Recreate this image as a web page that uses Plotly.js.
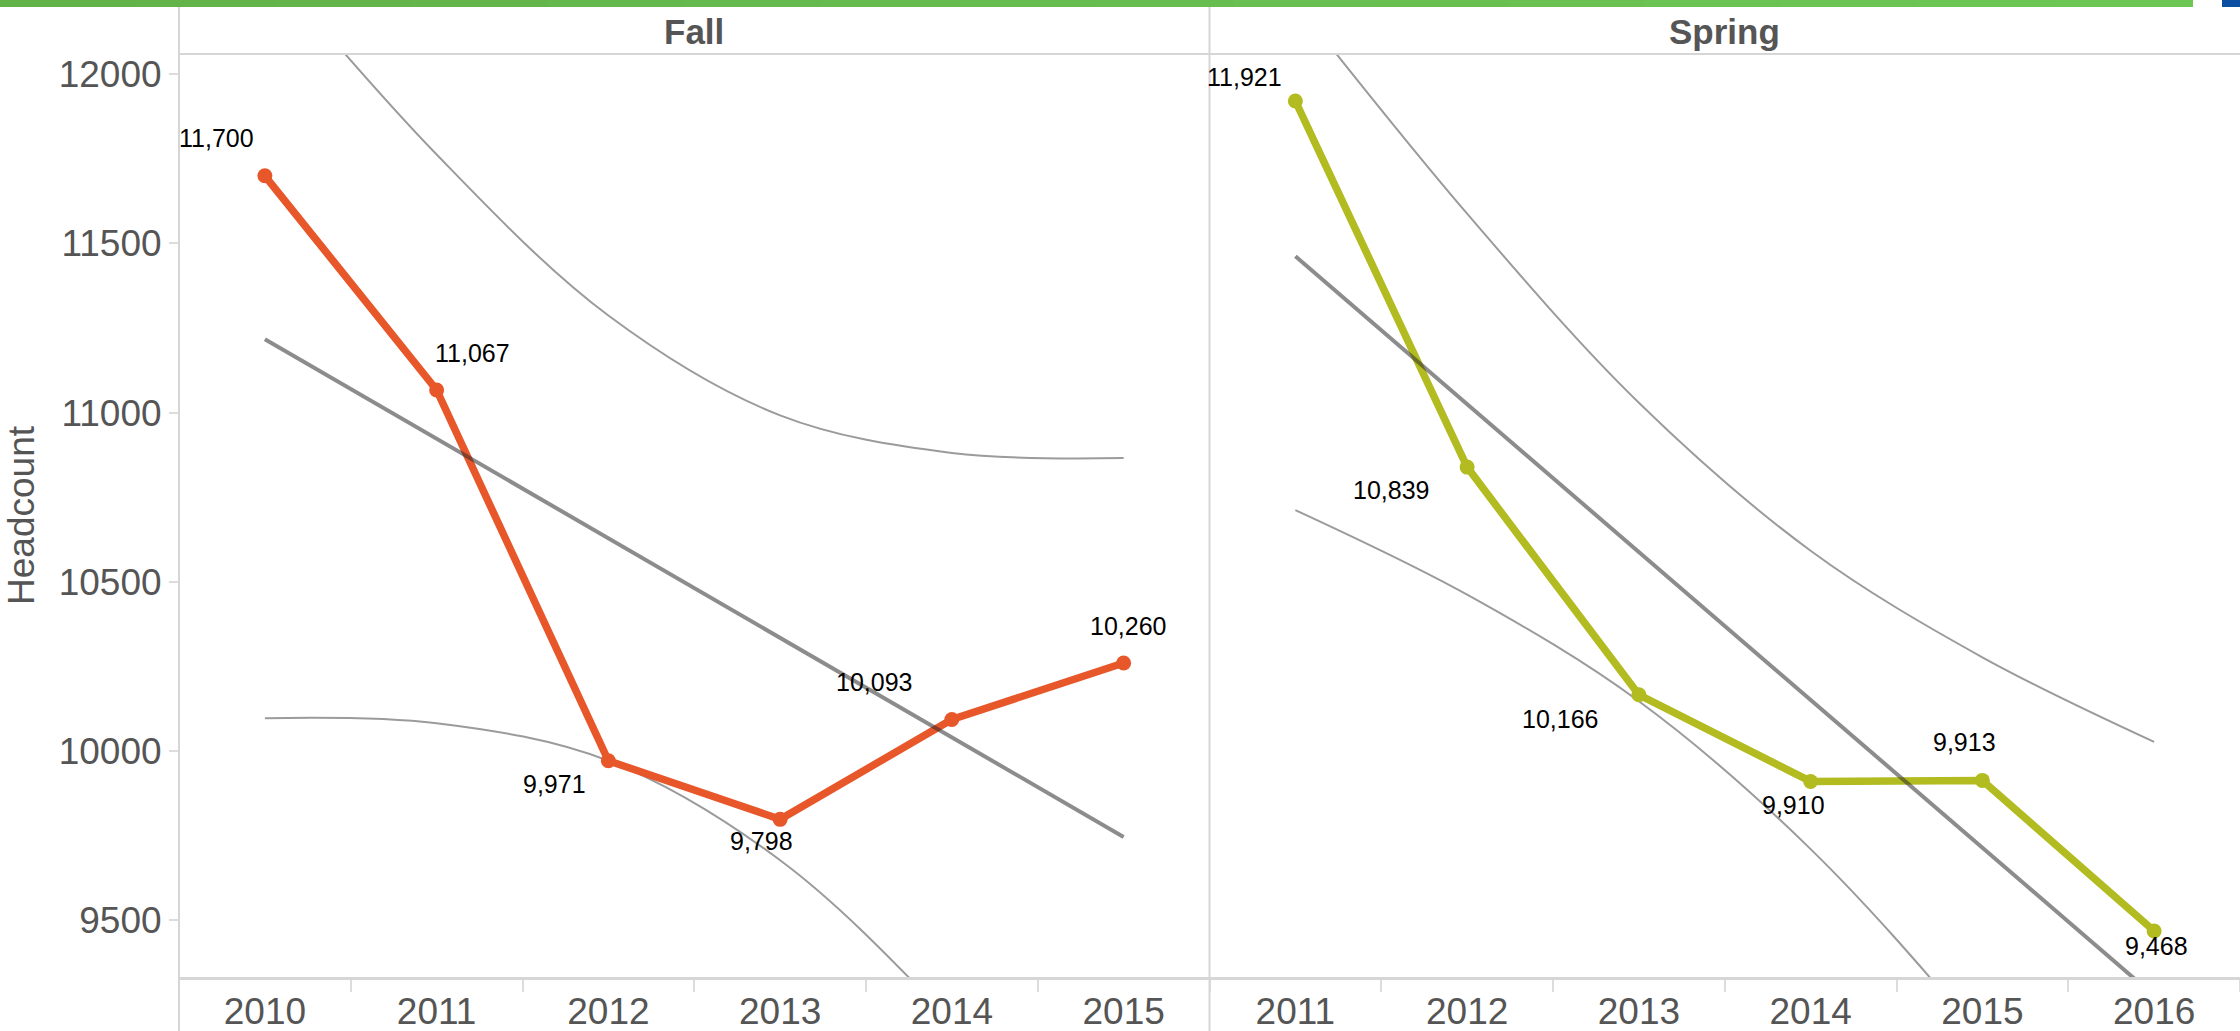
<!DOCTYPE html>
<html>
<head>
<meta charset="utf-8">
<script src="https://cdn.plot.ly/plotly-3.0.1.min.js"></script>
<style>
  html, body { margin: 0; padding: 0; background: #ffffff; }
  #chart { width: 2240px; height: 1031px; }
</style>
</head>
<body>
<div id="chart"></div>
<script>
// ---------------- DATA ----------------
const fallYears   = ['2010', '2011', '2012', '2013', '2014', '2015'];
const fallValues  = [11700, 11067, 9971, 9798, 10093, 10260];
const fallTrend   = [11217, 10923, 10629, 10334, 10040, 9746];
const fallUpper   = [12336, 11763, 11287, 10992, 10881, 10866];
const fallLower   = [10097, 10082, 9971, 9677, 9200, 8627];

const springYears  = ['2011', '2012', '2013', '2014', '2015', '2016'];
const springValues = [11921, 10839, 10166, 9910, 9913, 9468];
const springTrend  = [11462, 11025, 10588, 10151, 9714, 9277];
const springUpper  = [12213, 11588, 11029, 10592, 10277, 10027];
const springLower  = [10712, 10462, 10147, 9710, 9151, 8527];

const panelNames = ['Fall', 'Spring'];
const yTickVals  = [9500, 10000, 10500, 11000, 11500, 12000];
const yTitle     = 'Headcount';

// ---------------- STYLE ----------------
const FONT = '"Liberation Sans", Arial, Helvetica, sans-serif';
const fallColor = '#E8572A';
const springColor = '#B2BB1F';
const bandColor = '#9b9b9b';
const trendColor = 'rgba(45,45,45,0.55)';
const frameColor = '#d6d6d6';

// label offsets (pixels) for each point, style only
const fallShift   = [[-48,-38],[36,-37],[-54,23],[-19,22],[-78,-38],[4,-37]];
const springShift = [[-51,-24],[-76,23],[-79,24],[-17,24],[-18,-38],[2,15]];

function fmt(v) { return v.toLocaleString('en-US'); }

function panelTraces(years, values, trend, upper, lower, color, xa) {
  return [
    { x: years, y: upper, xaxis: xa, yaxis: 'y', type: 'scatter', mode: 'lines',
      line: { color: bandColor, width: 2, shape: 'spline', smoothing: 1 }, hoverinfo: 'skip' },
    { x: years, y: lower, xaxis: xa, yaxis: 'y', type: 'scatter', mode: 'lines',
      line: { color: bandColor, width: 2, shape: 'spline', smoothing: 1 }, hoverinfo: 'skip' },
    { x: years, y: values, xaxis: xa, yaxis: 'y', type: 'scatter', mode: 'lines+markers',
      line: { color: color, width: 7.5 }, marker: { color: color, size: 15 } },
    { x: [years[0], years[years.length - 1]], y: [trend[0], trend[trend.length - 1]],
      xaxis: xa, yaxis: 'y', type: 'scatter', mode: 'lines',
      line: { color: trendColor, width: 4 }, hoverinfo: 'skip' }
  ];
}

const data = [].concat(
  panelTraces(fallYears, fallValues, fallTrend, fallUpper, fallLower, fallColor, 'x'),
  panelTraces(springYears, springValues, springTrend, springUpper, springLower, springColor, 'x2')
);

const annotations = [];
function addLabels(years, values, shifts, xa) {
  years.forEach((yr, i) => {
    annotations.push({
      // category axes take the serial index of the category
      x: i, y: values[i], xref: xa, yref: 'y', text: fmt(values[i]),
      showarrow: false, xshift: shifts[i][0], yshift: -shifts[i][1],
      xanchor: 'center', yanchor: 'middle',
      font: { family: FONT, size: 25, color: '#000000' }
    });
  });
}
addLabels(fallYears, fallValues, fallShift, 'x');
addLabels(springYears, springValues, springShift, 'x2');

// panel headers
[0.25, 0.75].forEach((px, i) => {
  annotations.push({
    x: px, y: 1.0245, xref: 'paper', yref: 'paper', text: '<b>' + panelNames[i] + '</b>',
    showarrow: false, xanchor: 'center', yanchor: 'middle',
    font: { family: FONT, size: 35, color: '#555555' }
  });
});

// plot area: x 179..2240, y 54..977
const L = 179, T = 54, W = 2240 - 179, H = 977 - 54;
function px(X) { return (X - L) / W; }
function py(Y) { return (977 - Y) / H; }

const shapes = [];
// green top bar with slight gradient
const g0 = [98, 178, 74], g1 = [109, 199, 85];
const nSeg = 16;
for (let i = 0; i < nSeg; i++) {
  const t = i / (nSeg - 1);
  const c = g0.map((v, k) => Math.round(v + (g1[k] - v) * t));
  shapes.push({ type: 'rect', xref: 'paper', yref: 'paper',
    x0: px(2192 * i / nSeg), x1: px(2192 * (i + 1) / nSeg) + 0.0005, y0: py(7), y1: py(0),
    line: { width: 0 }, fillcolor: 'rgb(' + c.join(',') + ')', layer: 'above' });
}
shapes.push({ type: 'rect', xref: 'paper', yref: 'paper', x0: px(2222), x1: px(2240),
  y0: py(7), y1: py(0), line: { width: 0 }, fillcolor: '#0B4EA2' });
// header bottom line
shapes.push({ type: 'line', xref: 'paper', yref: 'paper', x0: 0, x1: 1, y0: 1, y1: 1,
  line: { color: frameColor, width: 2 } });
// vertical panel separators
[0, 0.5].forEach(xp => {
  shapes.push({ type: 'line', xref: 'paper', yref: 'paper', x0: xp, x1: xp, y0: py(1031), y1: py(7),
    line: { color: frameColor, width: 2 } });
});

function xAxis(domain, anchor) {
  return {
    domain: domain, anchor: anchor, type: 'category', range: [-0.5, 5.5],
    showgrid: false, zeroline: false, showline: true, linecolor: frameColor, linewidth: 3,
    ticks: 'outside', tickson: 'boundaries', ticklen: 12, tickwidth: 2, tickcolor: '#dddddd',
    tickfont: { family: FONT, size: 37, color: '#555555' }, fixedrange: true
  };
}

const layout = {
  width: 2240, height: 1031,
  margin: { l: L, r: 0, t: T, b: 1031 - 977, pad: 0 },
  paper_bgcolor: '#ffffff', plot_bgcolor: '#ffffff',
  showlegend: false,
  font: { family: FONT, color: '#555555' },
  xaxis: xAxis([0, 0.5], 'y'),
  xaxis2: xAxis([0.5, 1], 'y'),
  yaxis: {
    range: [9332, 12060], tickvals: yTickVals, ticktext: yTickVals.map(String),
    showgrid: false, zeroline: false, showline: false,
    ticks: 'outside', ticklen: 9, tickwidth: 2, tickcolor: '#dddddd',
    tickfont: { family: FONT, size: 37, color: '#555555' },
    title: { text: yTitle, font: { family: FONT, size: 37, color: '#555555' }, standoff: 12 },
    automargin: false, fixedrange: true
  },
  annotations: annotations,
  shapes: shapes
};

Plotly.newPlot('chart', data, layout, { displayModeBar: false, staticPlot: true });
</script>
</body>
</html>
